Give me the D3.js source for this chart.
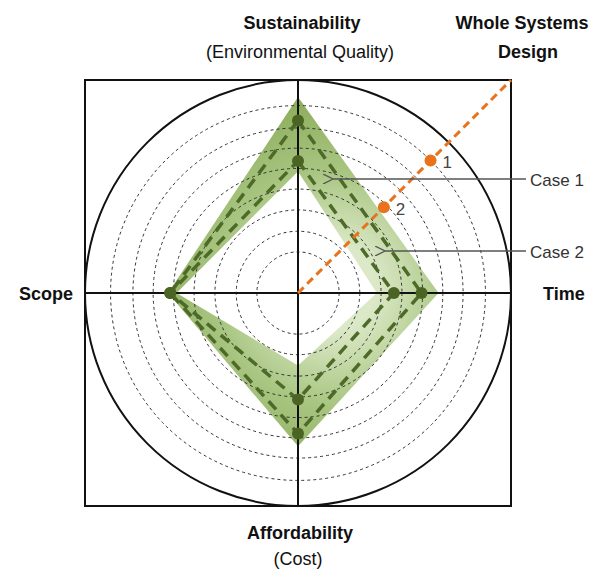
<!DOCTYPE html>
<html>
<head>
<meta charset="utf-8">
<script src="https://cdn.jsdelivr.net/npm/d3@7"></script>
<style>
  body { margin: 0; background: #fff; }
  text { font-family: "Liberation Sans", Arial, sans-serif; }
</style>
</head>
<body>
<div id="chart"></div>
<script>
// axes, clockwise from the top
const axes = ["Sustainability", "Time", "Affordability", "Scope"];
const case1 = [8.1, 5.8, 6.6, 6.0];
const case2 = [6.2, 4.5, 5.0, 6.0];
// green band around the two cases
const bandOuter = [9.2, 6.6, 7.2, 6.1];
const bandInner = [5.7, 3.7, 3.4, 5.7];
// dashed rings
const rings = [1.93, 2.9, 3.9, 4.88, 5.85, 6.8, 7.75, 8.8];
// whole systems design diagonal
const wsdValues = [8.8, 5.7];
const wsdLabels = ["1", "2"];

const W = 598, H = 569;
const cx = 298, cy = 293, R = 213;

const svg = d3.select("#chart").append("svg")
    .attr("width", W).attr("height", H);

const r = d3.scaleLinear().domain([0, 10]).range([0, R]);
const angle = d3.scalePoint().domain(axes).range([0, 2 * Math.PI * 3 / 4]);

function pt(axis, v) {
    const a = angle(axis);
    return [cx + r(v) * Math.sin(a), cy - r(v) * Math.cos(a)];
}

const defs = svg.append("defs");
const grad = defs.append("radialGradient")
    .attr("id", "bandGrad")
    .attr("gradientUnits", "userSpaceOnUse")
    .attr("cx", cx + 35).attr("cy", cy - 5).attr("r", 210);
grad.append("stop").attr("offset", "0.2").attr("stop-color", "#dce9c8");
grad.append("stop").attr("offset", "0.55").attr("stop-color", "#a9c682");
grad.append("stop").attr("offset", "1").attr("stop-color", "#86a852");

defs.append("filter").attr("id", "soft")
    .append("feGaussianBlur").attr("stdDeviation", 0.6);

defs.append("marker")
    .attr("id", "arrow")
    .attr("viewBox", "0 0 10 10")
    .attr("refX", 0).attr("refY", 5)
    .attr("markerWidth", 10).attr("markerHeight", 10)
    .attr("markerUnits", "userSpaceOnUse")
    .attr("orient", "auto-start-reverse")
    .append("path")
    .attr("d", "M10,0 L0,5 L10,10")
    .attr("fill", "none")
    .attr("stroke", "#555")
    .attr("stroke-width", 1.3);

// band
const outerPts = axes.map((a, i) => pt(a, bandOuter[i]));
const innerPts = axes.map((a, i) => pt(a, bandInner[i])).reverse();
const closed = d3.line().curve(d3.curveLinearClosed);
svg.append("path")
    .attr("d", closed(outerPts) + closed(innerPts))
    .attr("fill", "url(#bandGrad)")
    .attr("fill-rule", "evenodd")
    .attr("filter", "url(#soft)");

// rings
svg.selectAll(".ring").data(rings).join("circle")
    .attr("class", "ring")
    .attr("cx", cx).attr("cy", cy)
    .attr("r", d => r(d))
    .attr("fill", "none")
    .attr("stroke", "#333")
    .attr("stroke-width", 1)
    .attr("stroke-dasharray", "3,3");

svg.append("circle")
    .attr("cx", cx).attr("cy", cy).attr("r", r(10))
    .attr("fill", "none").attr("stroke", "#111").attr("stroke-width", 2);

// box
svg.append("rect")
    .attr("x", cx - r(10)).attr("y", cy - r(10))
    .attr("width", 2 * r(10)).attr("height", 2 * r(10))
    .attr("fill", "none").attr("stroke", "#111").attr("stroke-width", 2);

// axis lines
svg.append("line")
    .attr("x1", cx).attr("x2", cx).attr("y1", cy - r(10)).attr("y2", cy + r(10))
    .attr("stroke", "#111").attr("stroke-width", 2);
svg.append("line")
    .attr("x1", cx - r(10)).attr("x2", cx + r(10)).attr("y1", cy).attr("y2", cy)
    .attr("stroke", "#111").attr("stroke-width", 2);

// case outlines
[case1, case2].forEach(vals => {
    const pts = axes.map((a, i) => pt(a, vals[i]));
    svg.append("path")
        .attr("d", closed(pts))
        .attr("fill", "none")
        .attr("stroke", "#4d6a28")
        .attr("stroke-width", 3.5)
        .attr("stroke-dasharray", "11,7");
    svg.selectAll(null).data(pts).join("circle")
        .attr("cx", d => d[0]).attr("cy", d => d[1])
        .attr("r", 6)
        .attr("fill", "#4b6323");
});

// whole systems design diagonal
const wsdAngle = Math.PI / 4;
const wsdEnd = r(10) * Math.SQRT2;
svg.append("line")
    .attr("x1", cx).attr("y1", cy)
    .attr("x2", cx + wsdEnd * Math.sin(wsdAngle))
    .attr("y2", cy - wsdEnd * Math.cos(wsdAngle))
    .attr("stroke", "#e8731c")
    .attr("stroke-width", 3)
    .attr("stroke-dasharray", "8,5");

wsdValues.forEach((v, i) => {
    const x = cx + r(v) * Math.sin(wsdAngle), y = cy - r(v) * Math.cos(wsdAngle);
    svg.append("circle").attr("cx", x).attr("cy", y).attr("r", 6).attr("fill", "#e8731c");
    svg.append("text")
        .attr("x", x + 12).attr("y", y + 8)
        .attr("font-size", 17).attr("fill", "#444")
        .text(wsdLabels[i]);
});

// case callouts
const callouts = [
    { label: "Case 1", y: 179, tip: 333 },
    { label: "Case 2", y: 251, tip: 385 }
];
callouts.forEach(c => {
    svg.append("line")
        .attr("x1", c.tip).attr("x2", 526)
        .attr("y1", c.y).attr("y2", c.y)
        .attr("stroke", "#555").attr("stroke-width", 1.5)
        .attr("marker-start", "url(#arrow)");
    svg.append("text")
        .attr("x", 530).attr("y", c.y + 7)
        .attr("font-size", 17).attr("fill", "#333")
        .text(c.label);
});

// axis titles
function label(x, y, txt, bold, anchor) {
    svg.append("text")
        .attr("x", x).attr("y", y)
        .attr("text-anchor", anchor || "middle")
        .attr("font-size", 18)
        .attr("font-weight", bold ? "bold" : "normal")
        .attr("fill", "#111")
        .text(txt);
}
label(302, 29, "Sustainability", true);
label(300, 58, "(Environmental Quality)", false);
label(522, 29, "Whole Systems", true);
label(528, 58, "Design", true);
label(19, 300, "Scope", true, "start");
label(543, 300, "Time", true, "start");
label(300, 539, "Affordability", true);
label(298, 565, "(Cost)", false);
</script>
</body>
</html>
